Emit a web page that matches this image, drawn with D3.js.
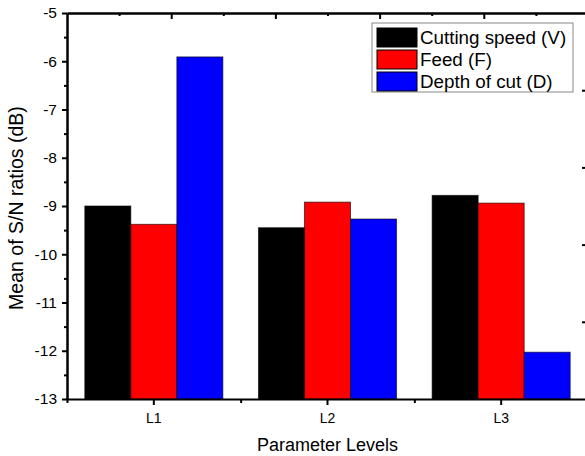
<!DOCTYPE html>
<html>
<head>
<meta charset="utf-8">
<script src="https://cdn.jsdelivr.net/npm/d3@7"></script>
<style>
  body { margin: 0; background: #fff; }
  svg { display: block; font-family: Arial, "Liberation Sans", sans-serif; }
</style>
</head>
<body>
<div id="chart"></div>
<script>
// data
const levels = ["L1", "L2", "L3"];
const seriesNames = ["Cutting speed (V)", "Feed (F)", "Depth of cut (D)"];
const seriesColors = ["#000000", "#ff0000", "#0000ff"];
const cuttingSpeed = [-9.0, -9.45, -8.78];
const feed = [-9.38, -8.92, -8.94];
const depthOfCut = [-5.91, -9.27, -12.03];
const yTicks = [-13, -12, -11, -10, -9, -8, -7, -6, -5];

const seriesValues = [cuttingSpeed, feed, depthOfCut];

const width = 585, height = 456;
const plot = { left: 67, right: 588, top: 13, bottom: 399 };

const svg = d3.select("#chart").append("svg")
  .attr("width", width)
  .attr("height", height);

// scales
const y = d3.scaleLinear().domain([-13, -5]).range([plot.bottom, plot.top]);
const x = d3.scaleBand().domain(levels)
  .range([plot.left, plot.right])
  .paddingInner(0.205)
  .paddingOuter(0.1025);
const xSub = d3.scaleBand().domain(d3.range(seriesNames.length))
  .range([0, x.bandwidth()]);
const xLin = d3.scaleLinear().domain([0, levels.length]).range([plot.left, plot.right]);
// mirror axes (top/right) in the original just run 5 even intervals
const xTop = d3.scaleLinear().domain([0, 5]).range([plot.left, plot.right]);
const yRight = d3.scaleLinear().domain([0, 5]).range([plot.bottom, plot.top]);

// bars
const groups = svg.append("g")
  .selectAll("g")
  .data(levels)
  .join("g")
  .attr("transform", d => `translate(${x(d)},0)`);

groups.selectAll("rect")
  .data((d, i) => seriesValues.map((s, k) => ({ k: k, v: s[i] })))
  .join("rect")
  .attr("x", d => xSub(d.k))
  .attr("width", xSub.bandwidth())
  .attr("y", d => y(d.v))
  .attr("height", d => y(-13) - y(d.v))
  .attr("fill", d => seriesColors[d.k])
  .attr("stroke", "#000")
  .attr("stroke-opacity", 0.6)
  .attr("stroke-width", 1);

// axes
const axisStyle = g => {
  g.select(".domain").attr("stroke-width", 2);
  g.selectAll(".tick line").attr("stroke-width", 2);
};

// left
svg.append("g")
  .attr("transform", `translate(${plot.left},0)`)
  .call(d3.axisLeft(y).tickValues(d3.range(-12.5, -5, 1)).tickSize(3).tickFormat("").tickSizeOuter(0))
  .call(axisStyle);
svg.append("g")
  .attr("transform", `translate(${plot.left},0)`)
  .call(d3.axisLeft(y).tickValues(yTicks).tickSize(5).tickPadding(5).tickSizeOuter(0).tickFormat(d => String(d)))
  .call(axisStyle)
  .call(g => g.selectAll("text").attr("font-size", 15.5).attr("fill", "#000").attr("font-family", null));

// bottom
svg.append("g")
  .attr("transform", `translate(0,${plot.bottom})`)
  .call(d3.axisBottom(xLin).tickValues(d3.range(0, levels.length + 1)).tickSize(4).tickFormat("").tickSizeOuter(0))
  .call(axisStyle);
svg.append("g")
  .attr("transform", `translate(0,${plot.bottom})`)
  .call(d3.axisBottom(x).tickSize(6).tickPadding(8).tickSizeOuter(0))
  .call(axisStyle)
  .call(g => g.select(".domain").remove())
  .call(g => g.selectAll("text").attr("font-size", 14).attr("fill", "#000").attr("font-family", null));

// top (ticks inward)
svg.append("g")
  .attr("transform", `translate(0,${plot.top})`)
  .call(d3.axisBottom(xTop).tickValues(d3.range(0.5, 5, 1)).tickSize(3).tickFormat("").tickSizeOuter(0))
  .call(axisStyle);
svg.append("g")
  .attr("transform", `translate(0,${plot.top})`)
  .call(d3.axisBottom(xTop).ticks(5).tickSize(6).tickFormat("").tickSizeOuter(0))
  .call(axisStyle)
  .call(g => g.selectAll(".tick").filter(d => d === 0 || d === 5).remove());

// right (ticks inward)
svg.append("g")
  .attr("transform", `translate(${plot.right},0)`)
  .call(d3.axisLeft(yRight).tickValues(d3.range(0.5, 5, 1)).tickSize(3).tickFormat("").tickSizeOuter(0))
  .call(axisStyle);
svg.append("g")
  .attr("transform", `translate(${plot.right},0)`)
  .call(d3.axisLeft(yRight).ticks(5).tickSize(6).tickFormat("").tickSizeOuter(0))
  .call(axisStyle)
  .call(g => g.selectAll(".tick").filter(d => d === 0 || d === 5).remove());

// axis titles
svg.append("text")
  .attr("x", (plot.left + plot.right) / 2)
  .attr("y", 451)
  .attr("text-anchor", "middle")
  .attr("font-size", 18)
  .text("Parameter Levels");

svg.append("text")
  .attr("transform", `translate(23,${(plot.top + plot.bottom) / 2 + 2}) rotate(-90)`)
  .attr("text-anchor", "middle")
  .attr("font-size", 19.5)
  .text("Mean of S/N ratios (dB)");

// legend
const legend = svg.append("g").attr("transform", "translate(372,23)");
legend.append("rect")
  .attr("width", 201)
  .attr("height", 69)
  .attr("fill", "#fff")
  .attr("stroke", "#888")
  .attr("stroke-width", 1);

const item = legend.selectAll("g.item")
  .data(seriesNames)
  .join("g")
  .attr("class", "item")
  .attr("transform", (d, i) => `translate(5,${5 + i * 22})`);
item.append("rect")
  .attr("width", 40)
  .attr("height", 19)
  .attr("fill", (d, i) => seriesColors[i])
  .attr("stroke", "#000")
  .attr("stroke-width", 1);
item.append("text")
  .attr("x", 43)
  .attr("y", 16)
  .attr("font-size", 18.8)
  .text(d => d);
</script>
</body>
</html>
